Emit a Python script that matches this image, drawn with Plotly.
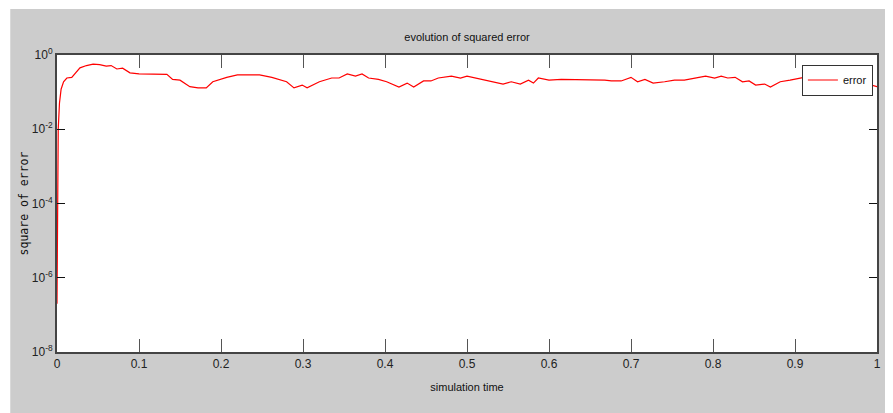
import plotly.graph_objects as go

# simulation time and squared error values
sim_time = [0, 0.0003, 0.0008, 0.0015, 0.003, 0.005, 0.008, 0.012, 0.018, 0.022,
            0.028, 0.036, 0.044, 0.052, 0.06, 0.066, 0.073, 0.08, 0.089, 0.1,
            0.115, 0.134, 0.141, 0.15, 0.162, 0.172, 0.182, 0.19, 0.207, 0.22,
            0.235, 0.247, 0.262, 0.28, 0.289, 0.299, 0.305, 0.32, 0.335, 0.344,
            0.354, 0.364, 0.372, 0.38, 0.392, 0.402, 0.417, 0.427, 0.435, 0.447,
            0.456, 0.465, 0.481, 0.492, 0.5, 0.51, 0.526, 0.544, 0.554, 0.565,
            0.575, 0.581, 0.587, 0.6, 0.615, 0.64, 0.668, 0.676, 0.688, 0.7,
            0.708, 0.717, 0.727, 0.741, 0.753, 0.765, 0.778, 0.791, 0.802, 0.81,
            0.818, 0.827, 0.836, 0.844, 0.852, 0.863, 0.87, 0.882, 0.894, 0.911,
            0.925, 0.95, 0.975, 1.0]
sq_error = [2e-7, 2e-5, 1e-3, 0.01, 0.05, 0.12, 0.19, 0.24, 0.25, 0.32,
            0.45, 0.52, 0.57, 0.55, 0.5, 0.52, 0.42, 0.44, 0.33, 0.31,
            0.31, 0.30, 0.22, 0.21, 0.14, 0.13, 0.13, 0.19, 0.25, 0.29,
            0.29, 0.29, 0.25, 0.19, 0.13, 0.155, 0.13, 0.19, 0.24, 0.24,
            0.31, 0.27, 0.31, 0.24, 0.22, 0.19, 0.137, 0.175, 0.137, 0.2,
            0.2, 0.24, 0.27, 0.24, 0.27, 0.24, 0.2, 0.165, 0.19, 0.165,
            0.21, 0.175, 0.24, 0.21, 0.22, 0.22, 0.21, 0.2, 0.2, 0.25,
            0.19, 0.22, 0.175, 0.19, 0.21, 0.21, 0.24, 0.27, 0.24, 0.27,
            0.24, 0.25, 0.19, 0.2, 0.155, 0.165, 0.137, 0.19, 0.21, 0.25,
            0.27, 0.25, 0.2, 0.14]

x_tickvals = [0, 0.1, 0.2, 0.3, 0.4, 0.5, 0.6, 0.7, 0.8, 0.9, 1]
x_ticktext = ["0", "0.1", "0.2", "0.3", "0.4", "0.5", "0.6", "0.7", "0.8", "0.9", "1"]
y_tickvals = [1e-8, 1e-6, 1e-4, 1e-2, 1]
y_ticktext = ["10<sup>-8</sup>", "10<sup>-6</sup>", "10<sup>-4</sup>", "10<sup>-2</sup>", "10<sup>0</sup>"]

FONT = "Liberation Sans, Arial, sans-serif"

fig = go.Figure()
fig.add_trace(go.Scatter(x=sim_time, y=sq_error, mode="lines", name="error",
                         line=dict(color="#ff0000", width=1.2)))

# page body has an 8px margin, so the figure is sized/offset to compensate
fig.update_layout(
    width=885, height=405,
    margin=dict(l=49, r=12, t=47, b=61),
    paper_bgcolor="#cccccc", plot_bgcolor="#ffffff",
    font=dict(family=FONT, size=11, color="#222222"),
    title=dict(text="evolution of squared error", x=0.5, xref="paper", xanchor="center",
               y=0.9284, yref="container", yanchor="middle",
               font=dict(family=FONT, size=11, color="#111111")),
    showlegend=True,
    legend=dict(x=0.995, y=0.968, xanchor="right", yanchor="top",
                bgcolor="#ffffff", bordercolor="#333333", borderwidth=1,
                font=dict(family=FONT, size=11, color="#111111")),
    xaxis=dict(range=[0, 1], tickvals=x_tickvals, ticktext=x_ticktext,
               showgrid=False, zeroline=False, showline=True, linecolor="#444444",
               linewidth=2, mirror="ticks", ticks="inside", ticklen=13,
               tickcolor="#555555", tickwidth=1,
               tickfont=dict(family=FONT, size=12, color="#222222"),
               title=dict(text="simulation time", standoff=13,
                          font=dict(family=FONT, size=11, color="#111111"))),
    yaxis=dict(type="log", range=[-8, 0], tickvals=y_tickvals, ticktext=y_ticktext,
               showgrid=False, zeroline=False, showline=True, linecolor="#444444",
               linewidth=2, mirror="ticks", ticks="inside", ticklen=8,
               tickcolor="#111111", tickwidth=1,
               tickfont=dict(family=FONT, size=12, color="#222222"),
               title=dict(text="square of error", standoff=1,
                          font=dict(family="DejaVu Sans Mono, monospace", size=11.5,
                                    color="#111111"))),
    shapes=[
        dict(type="rect", xref="paper", yref="paper", x0=-0.0600, x1=-0.0570,
             y0=-0.3, y1=1.3, fillcolor="#ffffff", line=dict(width=0), layer="above"),
        dict(type="rect", xref="paper", yref="paper", x0=-0.08, x1=1.1,
             y0=1.1549, y1=1.3, fillcolor="#ffffff", line=dict(width=0), layer="above"),
    ],
)

fig.write_html("out.html")
